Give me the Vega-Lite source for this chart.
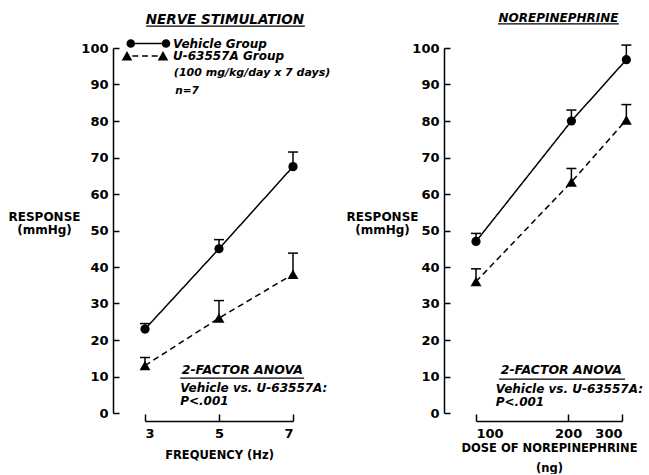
{
  "$schema": "https://vega.github.io/schema/vega-lite/v6.json",
  "background": "white",
  "padding": {"left": 8, "top": 12, "right": 0, "bottom": 0},
  "spacing": 15,
  "config": {
    "view": {"stroke": null},
    "font": "DejaVu Sans",
    "axis": {
      "domainColor": "black", "domainWidth": 1.5, "tickColor": "black", "tickWidth": 1.5,
      "labelColor": "black", "labelFont": "DejaVu Sans", "labelFontSize": 13, "labelFontWeight": "bold",
      "titleColor": "black", "titleFont": "DejaVu Sans", "titleFontSize": 11.5, "titleFontWeight": "bold",
      "grid": false, "labelOverlap": false
    },
    "text": {"color": "black", "font": "DejaVu Sans"}
  },
  "datasets": {
    "nerve": [
      {"freq": 3, "group": "Vehicle Group", "mean": 23, "upper": 24.5},
      {"freq": 5, "group": "Vehicle Group", "mean": 45, "upper": 47.5},
      {"freq": 7, "group": "Vehicle Group", "mean": 67.5, "upper": 71.5},
      {"freq": 3, "group": "U-63557A Group", "mean": 13, "upper": 15.2},
      {"freq": 5, "group": "U-63557A Group", "mean": 26, "upper": 30.8},
      {"freq": 7, "group": "U-63557A Group", "mean": 38, "upper": 43.8}
    ],
    "ne": [
      {"dose": 100, "group": "Vehicle Group", "mean": 47, "upper": 49.2},
      {"dose": 205, "group": "Vehicle Group", "mean": 80, "upper": 83},
      {"dose": 310, "group": "Vehicle Group", "mean": 96.8, "upper": 100.8},
      {"dose": 100, "group": "U-63557A Group", "mean": 36, "upper": 39.5},
      {"dose": 205, "group": "U-63557A Group", "mean": 63.3, "upper": 67},
      {"dose": 310, "group": "U-63557A Group", "mean": 80.3, "upper": 84.5}
    ]
  },
  "hconcat": [
    {
      "width": 148,
      "height": 365,
      "data": {"name": "nerve"},
      "resolve": {"scale": {"shape": "independent"}, "legend": {"shape": "independent"}},
      "layer": [
        {
          "mark": {"type": "line", "color": "black", "strokeWidth": 1.5},
          "encoding": {
            "x": {"field": "freq", "type": "quantitative",
              "scale": {"domain": [3, 7], "nice": false, "zero": false},
              "axis": {"values": [3, 5, 7], "format": "d", "offset": 8, "tickSize": -7, "labelPadding": 13, "title": "FREQUENCY (Hz)", "titlePadding": 9}},
            "y": {"field": "mean", "type": "quantitative",
              "scale": {"domain": [0, 100], "nice": false},
              "axis": {"values": [0, 10, 20, 30, 40, 50, 60, 70, 80, 90, 100], "tickCount": 20, "format": "d", "labelOverlap": false, "offset": 32, "tickSize": -6, "labelPadding": 11, "title": ["RESPONSE", "(mmHg)"], "titleAngle": 0, "titleAlign": "center", "titleBaseline": "alphabetic", "titleX": -69, "titleY": 172, "titleLineHeight": 13, "titleFontSize": 12}},
            "detail": {"field": "group"},
            "strokeDash": {"field": "group", "type": "nominal",
              "scale": {"domain": ["Vehicle Group", "U-63557A Group"], "range": [[1, 0], [6, 4]]}, "legend": null}
          }
        },
        {
          "mark": {"type": "rule", "color": "black", "strokeWidth": 1.5},
          "encoding": {
            "x": {"field": "freq", "type": "quantitative",
              "axis": {"values": [3, 5, 7], "format": "d", "offset": 8, "tickSize": -7, "labelPadding": 13, "title": "FREQUENCY (Hz)", "titlePadding": 9}},
            "y": {"field": "mean", "type": "quantitative",
              "axis": {"values": [0, 10, 20, 30, 40, 50, 60, 70, 80, 90, 100], "tickCount": 20, "format": "d", "labelOverlap": false, "offset": 32, "tickSize": -6, "labelPadding": 11, "title": ["RESPONSE", "(mmHg)"], "titleAngle": 0, "titleAlign": "center", "titleBaseline": "alphabetic", "titleX": -69, "titleY": 172, "titleLineHeight": 13, "titleFontSize": 12}},
            "y2": {"field": "upper"}
          }
        },
        {
          "mark": {"type": "point", "shape": "stroke", "filled": false, "color": "black", "strokeWidth": 1.5, "size": 100, "opacity": 1},
          "encoding": {
            "x": {"field": "freq", "type": "quantitative",
              "axis": {"values": [3, 5, 7], "format": "d", "offset": 8, "tickSize": -7, "labelPadding": 13, "title": "FREQUENCY (Hz)", "titlePadding": 9}},
            "y": {"field": "upper", "type": "quantitative",
              "axis": {"values": [0, 10, 20, 30, 40, 50, 60, 70, 80, 90, 100], "tickCount": 20, "format": "d", "labelOverlap": false, "offset": 32, "tickSize": -6, "labelPadding": 11, "title": ["RESPONSE", "(mmHg)"], "titleAngle": 0, "titleAlign": "center", "titleBaseline": "alphabetic", "titleX": -69, "titleY": 172, "titleLineHeight": 13, "titleFontSize": 12}}
          }
        },
        {
          "mark": {"type": "point", "filled": true, "color": "black", "opacity": 1},
          "encoding": {
            "x": {"field": "freq", "type": "quantitative",
              "axis": {"values": [3, 5, 7], "format": "d", "offset": 8, "tickSize": -7, "labelPadding": 13, "title": "FREQUENCY (Hz)", "titlePadding": 9}},
            "y": {"field": "mean", "type": "quantitative",
              "axis": {"values": [0, 10, 20, 30, 40, 50, 60, 70, 80, 90, 100], "tickCount": 20, "format": "d", "labelOverlap": false, "offset": 32, "tickSize": -6, "labelPadding": 11, "title": ["RESPONSE", "(mmHg)"], "titleAngle": 0, "titleAlign": "center", "titleBaseline": "alphabetic", "titleX": -69, "titleY": 172, "titleLineHeight": 13, "titleFontSize": 12}},
            "shape": {"field": "group", "type": "nominal",
              "scale": {"domain": ["Vehicle Group", "U-63557A Group"], "range": ["circle", "triangle-up"]}, "legend": null},
            "size": {"condition": {"test": "datum.group == 'Vehicle Group'", "value": 85}, "value": 120}
          }
        },
        {
          "mark": {"type": "point", "filled": true, "color": "black", "opacity": 0},
          "encoding": {
            "x": {"field": "freq", "type": "quantitative",
              "axis": {"values": [3, 5, 7], "format": "d", "offset": 8, "tickSize": -7, "labelPadding": 13, "title": "FREQUENCY (Hz)", "titlePadding": 9}},
            "y": {"field": "mean", "type": "quantitative",
              "axis": {"values": [0, 10, 20, 30, 40, 50, 60, 70, 80, 90, 100], "tickCount": 20, "format": "d", "labelOverlap": false, "offset": 32, "tickSize": -6, "labelPadding": 11, "title": ["RESPONSE", "(mmHg)"], "titleAngle": 0, "titleAlign": "center", "titleBaseline": "alphabetic", "titleX": -69, "titleY": 172, "titleLineHeight": 13, "titleFontSize": 12}},
            "shape": {"field": "group", "type": "nominal",
              "scale": {"domain": ["Vehicle Group", "U-63557A Group"],
                "range": [
                  "M-2.66,-0.16L2.66,-0.16L2.66,0.16L-2.66,0.16ZM-2.66,0A0.86,0.86,0,1,1,-4.38,0A0.86,0.86,0,1,1,-2.66,0ZM4.38,0A0.86,0.86,0,1,1,2.66,0A0.86,0.86,0,1,1,4.38,0Z",
                  "M-3.22,-0.16L-2.02,-0.16L-2.02,0.16L-3.22,0.16ZM-1.28,-0.16L-0.08,-0.16L-0.08,0.16L-1.28,0.16ZM0.66,-0.16L1.86,-0.16L1.86,0.16L0.66,0.16ZM-4.28,-1L-3.22,0.9L-5.34,0.9ZM2.92,-1L3.98,0.9L1.86,0.9Z"
                ]},
              "legend": {
                "orient": "none", "legendX": -2.6, "legendY": -10.5, "title": null, "padding": 0,
                "symbolSize": 100, "symbolFillColor": "black", "symbolStrokeColor": "black",
                "symbolStrokeWidth": 0, "symbolOpacity": 1,
                "labelFont": "DejaVu Sans", "labelFontStyle": "italic", "labelFontWeight": "bold",
                "labelFontSize": 12, "labelColor": "black", "labelOffset": 18.6, "rowPadding": 0.5,
                "encode": {"symbols": {"update": {"fill": {"value": "black"}, "fillOpacity": {"value": 1}, "opacity": {"value": 1}}}}
              }
            }
          }
        },
        {
          "data": {"values": [{}]},
          "mark": {"type": "text", "text": "(100 mg/kg/day x 7 days)", "fontStyle": "italic", "fontWeight": "bold", "fontSize": 11, "align": "left", "baseline": "middle"},
          "encoding": {"x": {"datum": 3.78}, "y": {"datum": 93.2}}
        },
        {
          "data": {"values": [{}]},
          "mark": {"type": "text", "text": "n=7", "fontStyle": "italic", "fontWeight": "bold", "fontSize": 10.5, "align": "left", "baseline": "middle"},
          "encoding": {"x": {"datum": 3.82}, "y": {"datum": 88.3}}
        },
        {
          "data": {"values": [{}]},
          "mark": {"type": "text", "text": "NERVE STIMULATION", "fontStyle": "italic", "fontWeight": "bold", "fontSize": 13.5, "align": "center", "baseline": "middle"},
          "encoding": {"x": {"datum": 5.16}, "y": {"datum": 107.7}}
        },
        {
          "data": {"values": [{}]},
          "mark": {"type": "rule", "color": "black", "strokeWidth": 1.2},
          "encoding": {"x": {"datum": 3.03}, "x2": {"datum": 7.32}, "y": {"datum": 106.0}}
        },
        {
          "data": {"values": [{}]},
          "mark": {"type": "text", "text": "2-FACTOR ANOVA", "fontStyle": "italic", "fontWeight": "bold", "fontSize": 12.5, "align": "center", "baseline": "middle"},
          "encoding": {"x": {"datum": 5.63}, "y": {"datum": 11.9}}
        },
        {
          "data": {"values": [{}]},
          "mark": {"type": "rule", "color": "black", "strokeWidth": 1.2},
          "encoding": {"x": {"datum": 3.95}, "x2": {"datum": 7.3}, "y": {"datum": 9.56}}
        },
        {
          "data": {"values": [{}]},
          "mark": {"type": "text", "text": "Vehicle vs. U-63557A:", "fontStyle": "italic", "fontWeight": "bold", "fontSize": 12, "align": "left", "baseline": "middle"},
          "encoding": {"x": {"datum": 3.95}, "y": {"datum": 6.83}}
        },
        {
          "data": {"values": [{}]},
          "mark": {"type": "text", "text": "P<.001", "fontStyle": "italic", "fontWeight": "bold", "fontSize": 12, "align": "left", "baseline": "middle"},
          "encoding": {"x": {"datum": 3.95}, "y": {"datum": 3.3}}
        }
      ]
    },
    {
      "width": 146,
      "height": 365,
      "data": {"name": "ne"},
      "layer": [
        {
          "mark": {"type": "line", "color": "black", "strokeWidth": 1.5},
          "encoding": {
            "x": {"field": "dose", "type": "quantitative",
              "scale": {"type": "log", "domain": [100, 300], "nice": false},
              "axis": {"values": [100, 200, 300], "format": "d", "offset": 8, "tickSize": -7, "labelPadding": 13, "title": ["DOSE OF NOREPINEPHRINE", "(ng)"], "titlePadding": 2, "titleLineHeight": 20}},
            "y": {"field": "mean", "type": "quantitative",
              "scale": {"domain": [0, 100], "nice": false},
              "axis": {"values": [0, 10, 20, 30, 40, 50, 60, 70, 80, 90, 100], "tickCount": 20, "format": "d", "labelOverlap": false, "offset": 32, "tickSize": -6, "labelPadding": 11, "title": ["RESPONSE", "(mmHg)"], "titleAngle": 0, "titleAlign": "center", "titleBaseline": "alphabetic", "titleX": -62, "titleY": 172, "titleLineHeight": 13, "titleFontSize": 12}},
            "detail": {"field": "group"},
            "strokeDash": {"field": "group", "type": "nominal",
              "scale": {"domain": ["Vehicle Group", "U-63557A Group"], "range": [[1, 0], [6, 4]]}, "legend": null}
          }
        },
        {
          "mark": {"type": "rule", "color": "black", "strokeWidth": 1.5},
          "encoding": {
            "x": {"field": "dose", "type": "quantitative",
              "axis": {"values": [100, 200, 300], "format": "d", "offset": 8, "tickSize": -7, "labelPadding": 13, "title": ["DOSE OF NOREPINEPHRINE", "(ng)"], "titlePadding": 2, "titleLineHeight": 20}},
            "y": {"field": "mean", "type": "quantitative",
              "axis": {"values": [0, 10, 20, 30, 40, 50, 60, 70, 80, 90, 100], "tickCount": 20, "format": "d", "labelOverlap": false, "offset": 32, "tickSize": -6, "labelPadding": 11, "title": ["RESPONSE", "(mmHg)"], "titleAngle": 0, "titleAlign": "center", "titleBaseline": "alphabetic", "titleX": -62, "titleY": 172, "titleLineHeight": 13, "titleFontSize": 12}},
            "y2": {"field": "upper"}
          }
        },
        {
          "mark": {"type": "point", "shape": "stroke", "filled": false, "color": "black", "strokeWidth": 1.5, "size": 100, "opacity": 1},
          "encoding": {
            "x": {"field": "dose", "type": "quantitative",
              "axis": {"values": [100, 200, 300], "format": "d", "offset": 8, "tickSize": -7, "labelPadding": 13, "title": ["DOSE OF NOREPINEPHRINE", "(ng)"], "titlePadding": 2, "titleLineHeight": 20}},
            "y": {"field": "upper", "type": "quantitative",
              "axis": {"values": [0, 10, 20, 30, 40, 50, 60, 70, 80, 90, 100], "tickCount": 20, "format": "d", "labelOverlap": false, "offset": 32, "tickSize": -6, "labelPadding": 11, "title": ["RESPONSE", "(mmHg)"], "titleAngle": 0, "titleAlign": "center", "titleBaseline": "alphabetic", "titleX": -62, "titleY": 172, "titleLineHeight": 13, "titleFontSize": 12}}
          }
        },
        {
          "mark": {"type": "point", "filled": true, "color": "black", "opacity": 1},
          "encoding": {
            "x": {"field": "dose", "type": "quantitative",
              "axis": {"values": [100, 200, 300], "format": "d", "offset": 8, "tickSize": -7, "labelPadding": 13, "title": ["DOSE OF NOREPINEPHRINE", "(ng)"], "titlePadding": 2, "titleLineHeight": 20}},
            "y": {"field": "mean", "type": "quantitative",
              "axis": {"values": [0, 10, 20, 30, 40, 50, 60, 70, 80, 90, 100], "tickCount": 20, "format": "d", "labelOverlap": false, "offset": 32, "tickSize": -6, "labelPadding": 11, "title": ["RESPONSE", "(mmHg)"], "titleAngle": 0, "titleAlign": "center", "titleBaseline": "alphabetic", "titleX": -62, "titleY": 172, "titleLineHeight": 13, "titleFontSize": 12}},
            "shape": {"field": "group", "type": "nominal",
              "scale": {"domain": ["Vehicle Group", "U-63557A Group"], "range": ["circle", "triangle-up"]}, "legend": null},
            "size": {"condition": {"test": "datum.group == 'Vehicle Group'", "value": 85}, "value": 120}
          }
        },
        {
          "data": {"values": [{}]},
          "mark": {"type": "text", "text": "NOREPINEPHRINE", "fontStyle": "italic", "fontWeight": "bold", "fontSize": 12, "align": "center", "baseline": "middle"},
          "encoding": {"x": {"datum": 186}, "y": {"datum": 108.1}}
        },
        {
          "data": {"values": [{}]},
          "mark": {"type": "rule", "color": "black", "strokeWidth": 1.2},
          "encoding": {"x": {"datum": 118}, "x2": {"datum": 293}, "y": {"datum": 106.6}}
        },
        {
          "data": {"values": [{}]},
          "mark": {"type": "text", "text": "2-FACTOR ANOVA", "fontStyle": "italic", "fontWeight": "bold", "fontSize": 12.5, "align": "center", "baseline": "middle"},
          "encoding": {"x": {"datum": 190}, "y": {"datum": 11.85}}
        },
        {
          "data": {"values": [{}]},
          "mark": {"type": "rule", "color": "black", "strokeWidth": 1.2},
          "encoding": {"x": {"datum": 119}, "x2": {"datum": 307}, "y": {"datum": 9.28}}
        },
        {
          "data": {"values": [{}]},
          "mark": {"type": "text", "text": "Vehicle vs. U-63557A:", "fontStyle": "italic", "fontWeight": "bold", "fontSize": 12, "align": "left", "baseline": "middle"},
          "encoding": {"x": {"datum": 116}, "y": {"datum": 6.6}}
        },
        {
          "data": {"values": [{}]},
          "mark": {"type": "text", "text": "P<.001", "fontStyle": "italic", "fontWeight": "bold", "fontSize": 12, "align": "left", "baseline": "middle"},
          "encoding": {"x": {"datum": 116}, "y": {"datum": 3.0}}
        }
      ]
    }
  ]
}
